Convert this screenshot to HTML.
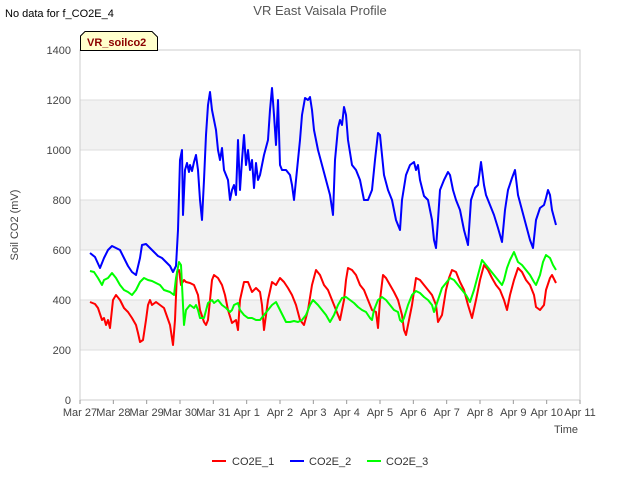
<!DOCTYPE html>
<html><head><meta charset="utf-8"><style>
body{margin:0;background:#fff;}
svg{display:block;font-family:"Liberation Sans","DejaVu Sans",sans-serif;}
</style></head><body>
<svg id="chart" width="640" height="480" viewBox="0 0 640 480">
  <rect width="640" height="480" fill="#fff"/>
  <text x="5" y="17" font-size="11" fill="#000">No data for f_CO2E_4</text>
  <text x="320" y="15" font-size="13" fill="#555" text-anchor="middle">VR East Vaisala Profile</text>
  <g id="bands"></g>
  <g id="grid"></g>
  <rect x="80" y="50" width="500" height="350" fill="none" stroke="#ccc"/>
  <g id="yticks"></g>
  <g id="xticks"></g>
  <g id="series"></g>
  <text transform="translate(18,225) rotate(-90)" font-size="11" fill="#444" text-anchor="middle">Soil CO2 (mV)</text>
  <text x="578" y="433" font-size="11" fill="#444" text-anchor="end">Time</text>
  <g>
    <path d="M80.5,50.5 L80.5,36 L85,31.5 L152,31.5 L157.5,37 L157.5,50.5 Z" fill="#ffffcc" stroke="#000"/>
    <text x="87" y="46" font-size="11" font-weight="bold" fill="#8b0000">VR_soilco2</text>
  </g>
  <g>
    <g><line x1="212" y1="461" x2="226" y2="461" stroke="#f00" stroke-width="2"/><text x="232" y="465" font-size="11" fill="#333">CO2E_1</text></g>
    <g><line x1="290" y1="461" x2="304" y2="461" stroke="#00f" stroke-width="2"/><text x="309" y="465" font-size="11" fill="#333">CO2E_2</text></g>
    <g><line x1="367" y1="461" x2="381" y2="461" stroke="#0f0" stroke-width="2"/><text x="386" y="465" font-size="11" fill="#333">CO2E_3</text></g>
  </g>
</svg>
<script>
const xTickLabels = ["Mar 27","Mar 28","Mar 29","Mar 30","Mar 31","Apr 1","Apr 2","Apr 3","Apr 4","Apr 5","Apr 6","Apr 7","Apr 8","Apr 9","Apr 10","Apr 11"];
const yTicks = [0,200,400,600,800,1000,1200,1400];
const co2e2Days = [0.30,0.45,0.60,0.72,0.84,0.96,1.08,1.20,1.32,1.44,1.56,1.68,1.80,1.86,1.98,2.10,2.22,2.34,2.46,2.58,2.70,2.79,2.88,2.94,3.00,3.06,3.09,3.15,3.21,3.27,3.30,3.36,3.42,3.48,3.54,3.60,3.66,3.72,3.78,3.84,3.90,3.96,4.02,4.08,4.14,4.20,4.26,4.32,4.44,4.50,4.56,4.62,4.68,4.74,4.80,4.86,4.92,4.98,5.04,5.10,5.16,5.22,5.28,5.34,5.40,5.52,5.64,5.70,5.76,5.82,5.88,5.94,6.00,6.06,6.18,6.30,6.36,6.42,6.48,6.60,6.66,6.75,6.84,6.90,6.96,7.02,7.14,7.26,7.38,7.50,7.59,7.65,7.74,7.80,7.86,7.92,7.98,8.04,8.16,8.28,8.40,8.52,8.64,8.76,8.85,8.94,9.00,9.06,9.12,9.24,9.36,9.48,9.60,9.66,9.78,9.90,10.02,10.08,10.14,10.20,10.32,10.44,10.56,10.62,10.68,10.74,10.80,10.92,11.04,11.10,11.19,11.28,11.40,11.52,11.64,11.73,11.85,11.94,12.03,12.12,12.18,12.30,12.42,12.54,12.66,12.75,12.84,12.96,13.05,13.14,13.26,13.38,13.50,13.59,13.68,13.80,13.92,13.98,14.04,14.10,14.16,14.28];
const co2e2Values = [588,572,528,568,600,616,608,600,568,536,512,500,568,620,624,608,592,576,568,552,536,512,536,680,960,1000,740,920,948,912,940,916,952,980,920,800,720,880,1060,1180,1232,1160,1120,1080,1000,960,1008,920,880,800,840,860,820,1040,840,960,1060,940,1000,920,960,848,948,880,900,980,1040,1160,1248,1140,1020,1200,940,920,920,900,860,800,880,1040,1140,1208,1200,1212,1160,1080,1000,940,880,820,740,960,1088,1120,1100,1172,1140,1040,940,920,880,800,800,840,960,1068,1060,980,900,840,800,720,680,800,900,940,952,920,940,880,816,800,720,640,608,720,840,880,912,900,840,800,760,680,620,800,848,860,952,860,820,780,740,688,632,760,840,888,920,820,760,700,640,608,720,768,780,808,840,820,760,700];
const co2e1Days = [0.30,0.45,0.54,0.66,0.72,0.78,0.84,0.90,0.99,1.08,1.20,1.32,1.44,1.56,1.68,1.74,1.80,1.89,1.98,2.04,2.10,2.16,2.28,2.40,2.52,2.70,2.79,2.85,2.91,2.97,3.03,3.12,3.18,3.30,3.42,3.54,3.60,3.72,3.78,3.84,3.90,3.96,4.02,4.14,4.26,4.35,4.44,4.56,4.68,4.74,4.80,4.92,5.04,5.16,5.28,5.40,5.46,5.52,5.64,5.76,5.88,6.00,6.12,6.24,6.36,6.48,6.60,6.72,6.84,6.96,7.08,7.20,7.32,7.44,7.56,7.68,7.80,7.92,7.98,8.04,8.16,8.28,8.40,8.52,8.64,8.76,8.88,8.94,9.00,9.09,9.18,9.30,9.42,9.54,9.66,9.72,9.78,9.84,9.96,10.08,10.20,10.32,10.44,10.56,10.68,10.74,10.86,10.98,11.07,11.16,11.28,11.40,11.52,11.64,11.76,11.88,12.00,12.12,12.24,12.36,12.48,12.60,12.72,12.81,12.90,13.02,13.14,13.26,13.38,13.50,13.62,13.68,13.80,13.92,13.98,14.10,14.16,14.28];
const co2e1Values = [392,384,368,320,328,300,320,288,400,420,400,368,352,328,300,268,232,240,320,380,400,380,392,380,368,300,220,320,512,520,460,480,472,468,460,420,360,312,300,320,400,480,500,488,460,420,360,308,320,280,400,472,472,432,448,432,380,280,400,472,460,488,472,448,420,380,320,300,360,460,520,500,460,440,400,360,320,400,480,528,520,500,460,440,400,360,352,288,400,500,488,460,432,400,340,280,260,300,380,488,480,460,440,420,380,312,340,440,488,520,512,472,440,380,328,400,480,540,520,488,460,440,400,360,420,480,528,512,480,460,420,372,360,380,440,488,500,468];
const co2e3Days = [0.30,0.42,0.54,0.66,0.72,0.84,0.96,1.08,1.20,1.32,1.44,1.56,1.68,1.80,1.92,2.04,2.16,2.28,2.40,2.52,2.70,2.82,2.88,2.97,3.03,3.09,3.12,3.18,3.30,3.42,3.48,3.54,3.60,3.72,3.84,3.96,4.02,4.14,4.26,4.38,4.50,4.56,4.62,4.74,4.80,4.92,5.04,5.16,5.28,5.40,5.52,5.64,5.76,5.88,6.00,6.18,6.30,6.42,6.54,6.66,6.78,6.90,6.99,7.14,7.26,7.38,7.50,7.62,7.74,7.86,7.98,8.10,8.22,8.34,8.46,8.58,8.70,8.76,8.82,8.94,9.06,9.18,9.30,9.42,9.54,9.60,9.66,9.72,9.84,9.96,10.08,10.20,10.32,10.44,10.56,10.62,10.74,10.86,10.98,11.10,11.22,11.34,11.46,11.58,11.70,11.82,11.94,12.06,12.18,12.30,12.42,12.54,12.66,12.72,12.81,12.90,13.02,13.14,13.26,13.38,13.50,13.62,13.68,13.80,13.89,13.98,14.10,14.19,14.28];
const co2e3Values = [516,512,488,460,480,488,508,488,460,440,432,420,440,472,488,480,476,468,460,440,432,420,488,552,540,380,300,360,380,368,380,360,328,328,388,400,388,400,380,368,352,360,380,388,360,340,328,328,320,320,340,360,380,392,360,312,312,316,312,320,340,380,400,380,360,340,312,340,380,408,412,400,388,372,360,352,328,320,360,400,412,400,380,360,352,320,312,328,380,420,436,428,412,400,380,352,400,448,468,488,480,460,440,420,392,440,500,560,540,520,500,480,460,480,528,560,592,552,540,520,500,472,460,500,552,580,568,540,520];

const NS = "http://www.w3.org/2000/svg";
const X0 = 80, X1 = 580, Y0 = 400, Y1 = 50;
function xScale(d){ return X0 + d * (X1 - X0) / 15; }
function yScale(v){ return Y0 - v * (Y0 - Y1) / 1400; }
function mk(tag, attrs){ const e = document.createElementNS(NS, tag); for (const k in attrs) e.setAttribute(k, attrs[k]); return e; }

const bands = document.getElementById('bands');
for (let i = 1; i < yTicks.length - 1; i += 2) {
  const r = mk('rect', {x: X0, y: yScale(yTicks[i+1]), width: X1 - X0, height: yScale(yTicks[i]) - yScale(yTicks[i+1]), fill: '#f2f2f2'});
  
  
  bands.appendChild(r);
}
const grid = document.getElementById('grid');
const yt = document.getElementById('yticks');
yTicks.forEach(v => {
  const y = yScale(v);
  const l = mk('line', {x1: X0, x2: X1, y1: y, y2: y, stroke: '#ddd'});
  
  
  grid.appendChild(l);
  const t = mk('text', {x: 71, y: y + 4, 'font-size': 11, fill: '#444', 'text-anchor': 'end'});
  t.textContent = v;
  
  
  yt.appendChild(t);
});
const xt = document.getElementById('xticks');
xTickLabels.forEach((lab, i) => {
  const x = xScale(i);
  const tk = mk('line', {x1: x, x2: x, y1: Y0, y2: Y0 + 4, stroke: '#999'});
  
  
  xt.appendChild(tk);
  const t = mk('text', {x: x, y: Y0 + 16, 'font-size': 11, fill: '#444', 'text-anchor': 'middle'});
  t.textContent = lab;
  
  
  xt.appendChild(t);
});
const series = document.getElementById('series');
function drawLine(days, vals, color, name){
  const d = days.map((t, i) => (i ? 'L' : 'M') + xScale(t).toFixed(1) + ',' + yScale(vals[i]).toFixed(1)).join(' ');
  const p = mk('path', {d: d, fill: 'none', stroke: color, 'stroke-width': 2, 'stroke-linejoin': 'round'});
  
  
  series.appendChild(p);
}
drawLine(co2e1Days, co2e1Values, '#ff0000', 'co2e-1-line');
drawLine(co2e2Days, co2e2Values, '#0000ff', 'co2e-2-line');
drawLine(co2e3Days, co2e3Values, '#00ff00', 'co2e-3-line');
</script>
</body></html>
